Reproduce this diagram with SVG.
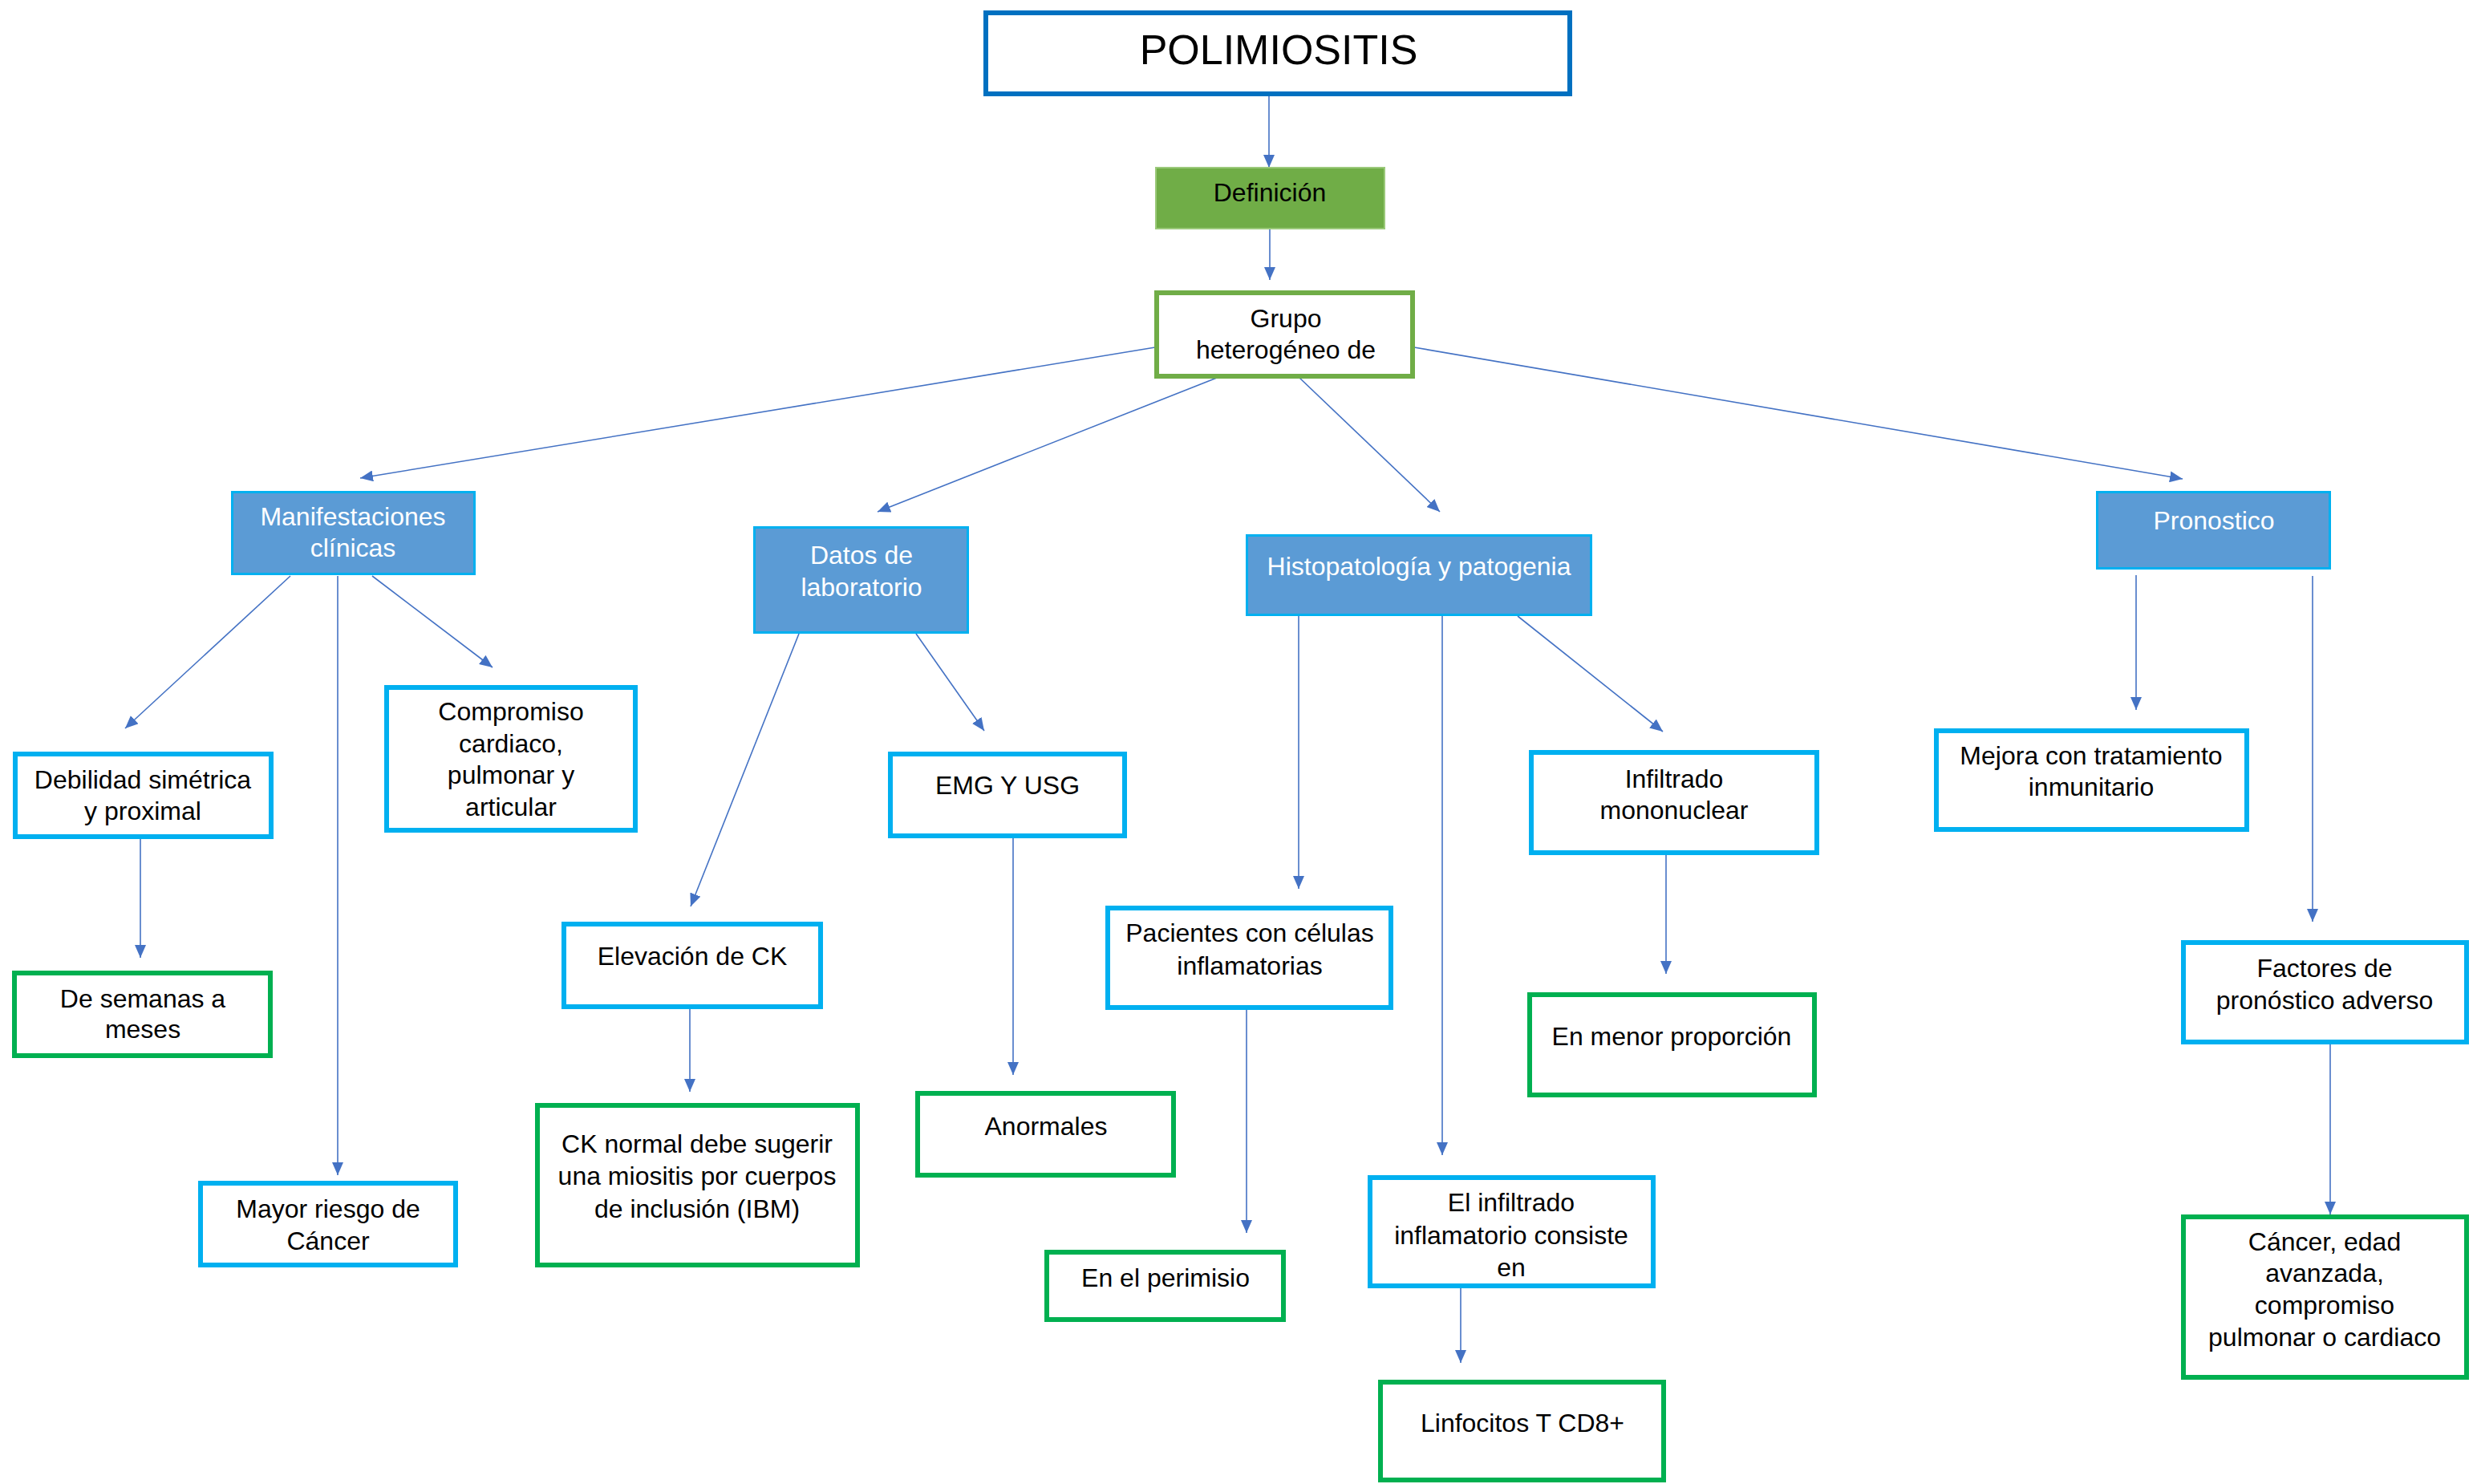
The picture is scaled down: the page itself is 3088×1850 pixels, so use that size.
<svg xmlns="http://www.w3.org/2000/svg" width="3088" height="1850" viewBox="0 0 3088 1850">
<style>
text{font-family:"Liberation Sans",Arial,sans-serif;font-size:32px;fill:#000;text-anchor:middle}
.cy{fill:#fff;stroke:#00B0F0;stroke-width:6}
.gr{fill:#fff;stroke:#00B050;stroke-width:6}
.hd{fill:#5B9BD5;stroke:#00B0F0;stroke-width:3}
.w{fill:#fff}
.c line{stroke:#4472C4;stroke-width:1.6;marker-end:url(#ah)}
</style>
<defs>
<marker id="ah" markerUnits="userSpaceOnUse" markerWidth="16" markerHeight="14" refX="16" refY="7" orient="auto">
<path d="M0,0 L16,7 L0,14 z" fill="#4472C4"/>
</marker>
</defs>
<rect width="3088" height="1850" fill="#fff"/>
<g class="c" id="connectors">
<line x1="1582" y1="120" x2="1582" y2="209"/>
<line x1="1583" y1="286" x2="1583" y2="349"/>
<line x1="1440" y1="433" x2="449" y2="596"/>
<line x1="1522" y1="469" x2="1094" y2="638"/>
<line x1="1619" y1="470" x2="1795" y2="638"/>
<line x1="1763" y1="433" x2="2721" y2="597"/>
<line x1="362" y1="718" x2="156" y2="908"/>
<line x1="421" y1="718" x2="421" y2="1465"/>
<line x1="464" y1="718" x2="614" y2="832"/>
<line x1="175" y1="1046" x2="175" y2="1194"/>
<line x1="996" y1="790" x2="861" y2="1130"/>
<line x1="860" y1="1258" x2="860" y2="1361"/>
<line x1="1142" y1="790" x2="1227" y2="911"/>
<line x1="1263" y1="1045" x2="1263" y2="1340"/>
<line x1="1619" y1="768" x2="1619" y2="1108"/>
<line x1="1798" y1="768" x2="1798" y2="1440"/>
<line x1="1892" y1="768" x2="2073" y2="912"/>
<line x1="1554" y1="1259" x2="1554" y2="1537"/>
<line x1="1821" y1="1606" x2="1821" y2="1699"/>
<line x1="2077" y1="1063" x2="2077" y2="1214"/>
<line x1="2663" y1="717" x2="2663" y2="885"/>
<line x1="2883" y1="718" x2="2883" y2="1149"/>
<line x1="2905" y1="1302" x2="2905" y2="1514"/>
</g>
<g id="polimiositis"><rect x="1229" y="16" width="728" height="101" fill="#fff" stroke="#0070C0" stroke-width="6"/><text x="1594" y="80" style="font-size:52px">POLIMIOSITIS</text></g>
<g id="definicion"><rect x="1441" y="209" width="285" height="76" fill="#70AD47" stroke="#9BC97A" stroke-width="2"/><text x="1583" y="251">Definición</text></g>
<g id="grupo"><rect x="1442" y="365" width="319" height="104" fill="#fff" stroke="#70AD47" stroke-width="6"/><text x="1603" y="408">Grupo</text><text x="1603" y="447">heterogéneo de</text></g>
<g id="manifestaciones"><rect class="hd" x="289.5" y="613.5" width="302" height="102"/><text class="w" x="440" y="655">Manifestaciones</text><text class="w" x="440" y="694">clínicas</text></g>
<g id="datos"><rect class="hd" x="940.5" y="657.5" width="266" height="131"/><text class="w" x="1074" y="703">Datos de</text><text class="w" x="1074" y="743">laboratorio</text></g>
<g id="histopatologia"><rect class="hd" x="1554.5" y="667.5" width="429" height="99"/><text class="w" x="1769" y="717">Histopatología y patogenia</text></g>
<g id="pronostico"><rect class="hd" x="2614.5" y="613.5" width="290" height="95"/><text class="w" x="2760" y="660">Pronostico</text></g>
<g id="debilidad"><rect class="cy" x="19" y="940" width="319" height="103"/><text x="178" y="983">Debilidad simétrica</text><text x="178" y="1022">y proximal</text></g>
<g id="compromiso"><rect class="cy" x="482" y="857" width="310" height="178"/><text x="637" y="898">Compromiso</text><text x="637" y="938">cardiaco,</text><text x="637" y="977">pulmonar y</text><text x="637" y="1017">articular</text></g>
<g id="semanas"><rect class="gr" x="18" y="1213" width="319" height="103"/><text x="178" y="1256">De semanas a</text><text x="178" y="1294">meses</text></g>
<g id="mayor"><rect class="cy" x="250" y="1475" width="318" height="102"/><text x="409" y="1518">Mayor riesgo de</text><text x="409" y="1558">Cáncer</text></g>
<g id="elevacion"><rect class="cy" x="703" y="1152" width="320" height="103"/><text x="863" y="1203">Elevación de CK</text></g>
<g id="cknormal"><rect class="gr" x="670" y="1378" width="399" height="199"/><text x="869" y="1437">CK normal debe sugerir</text><text x="869" y="1477">una miositis por cuerpos</text><text x="869" y="1518">de inclusión (IBM)</text></g>
<g id="emg"><rect class="cy" x="1110" y="940" width="292" height="102"/><text x="1256" y="990">EMG Y USG</text></g>
<g id="anormales"><rect class="gr" x="1144" y="1363" width="319" height="102"/><text x="1304" y="1415">Anormales</text></g>
<g id="pacientes"><rect class="cy" x="1381" y="1132" width="353" height="124"/><text x="1558" y="1174">Pacientes con células</text><text x="1558" y="1215">inflamatorias</text></g>
<g id="perimisio"><rect class="gr" x="1305" y="1561" width="295" height="84"/><text x="1453" y="1604">En el perimisio</text></g>
<g id="infiltrado-consiste"><rect class="cy" x="1708" y="1468" width="353" height="135"/><text x="1884" y="1510">El infiltrado</text><text x="1884" y="1551">inflamatorio consiste</text><text x="1884" y="1591">en</text></g>
<g id="linfocitos"><rect class="gr" x="1721" y="1723" width="353" height="122"/><text x="1898" y="1785">Linfocitos T CD8+</text></g>
<g id="infiltrado-mononuclear"><rect class="cy" x="1909" y="938" width="356" height="125"/><text x="2087" y="982">Infiltrado</text><text x="2087" y="1021">mononuclear</text></g>
<g id="menor"><rect class="gr" x="1907" y="1240" width="355" height="125"/><text x="2084" y="1303">En menor proporción</text></g>
<g id="mejora"><rect class="cy" x="2414" y="911" width="387" height="123"/><text x="2607" y="953">Mejora con tratamiento</text><text x="2607" y="992">inmunitario</text></g>
<g id="factores"><rect class="cy" x="2722" y="1175" width="353" height="124"/><text x="2898" y="1218">Factores de</text><text x="2898" y="1258">pronóstico adverso</text></g>
<g id="cancer"><rect class="gr" x="2722" y="1517" width="353" height="200"/><text x="2898" y="1559">Cáncer, edad</text><text x="2898" y="1598">avanzada,</text><text x="2898" y="1638">compromiso</text><text x="2898" y="1678">pulmonar o cardiaco</text></g>
</svg>
